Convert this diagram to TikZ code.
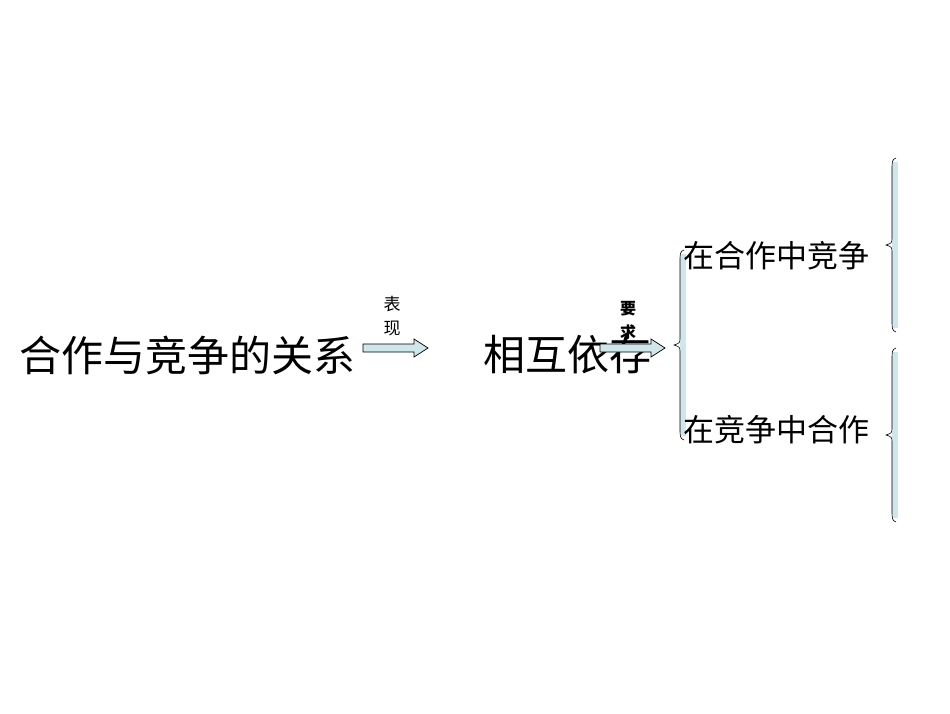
\documentclass[tikz,border=0pt]{standalone}
\usepackage{fontspec}
\newfontfamily\cjk{Noto Sans CJK SC}
\definecolor{lb}{HTML}{CFE6EA}
\begin{document}
\begin{tikzpicture}[x=1pt,y=-1pt,
  big/.style={font=\cjk\fontsize{42}{44}\selectfont, inner sep=0},
  mid/.style={font=\cjk\fontsize{31}{33}\selectfont, inner sep=0, anchor=west},
  small/.style={font=\cjk\fontsize{17}{24}\selectfont, inner sep=0, align=center},
  arr/.style={draw=black, fill=lb, line width=0.7pt}]
\useasboundingbox (0,0) rectangle (950,713);
\newcommand{\myfatarrow}[3]{% x1 x2 y
  \draw[arr] (#1,#3-4) -- (#2-14,#3-4) -- (#2-14,#3-9) -- (#2,#3) -- (#2-14,#3+9) -- (#2-14,#3+4) -- (#1,#3+4) -- cycle;}
\newcommand{\mybrace}[4]{% xtip xline ytop ybot
  \fill[lb] (#2,#3+4) rectangle (#2+6,#4-4);
  \draw[line width=0.6pt] (#2+4,#3) .. controls (#2,#3+1) and (#2,#3+5) .. (#2,#3+10)
    -- (#2,{(#3+#4)/2-8}) .. controls (#2,{(#3+#4)/2-2}) .. (#1,{(#3+#4)/2})
    .. controls (#2,{(#3+#4)/2+2}) .. (#2,{(#3+#4)/2+8})
    -- (#2,#4-10) .. controls (#2,#4-5) and (#2,#4-1) .. (#2+4,#4);}
\node[big] (a) at (187,355) {合作与竞争的关系};
\node[big] (b) at (567,355) {相互依存};
\myfatarrow{363}{428}{348}
\node[small] (t1) at (392,316) {表\\现};
\myfatarrow{600}{665}{348}
\node[small, font=\cjk\bfseries\fontsize{16}{24}\selectfont] (t2) at (628,321) {要\\求};
\mybrace{674}{680}{250}{440}
\node[mid] (c1) at (683,256) {在合作中竞争};
\node[mid] (c2) at (683,430) {在竞争中合作};
\mybrace{886}{892}{158}{332}
\mybrace{886}{892}{348}{522}
\end{tikzpicture}
\end{document}
